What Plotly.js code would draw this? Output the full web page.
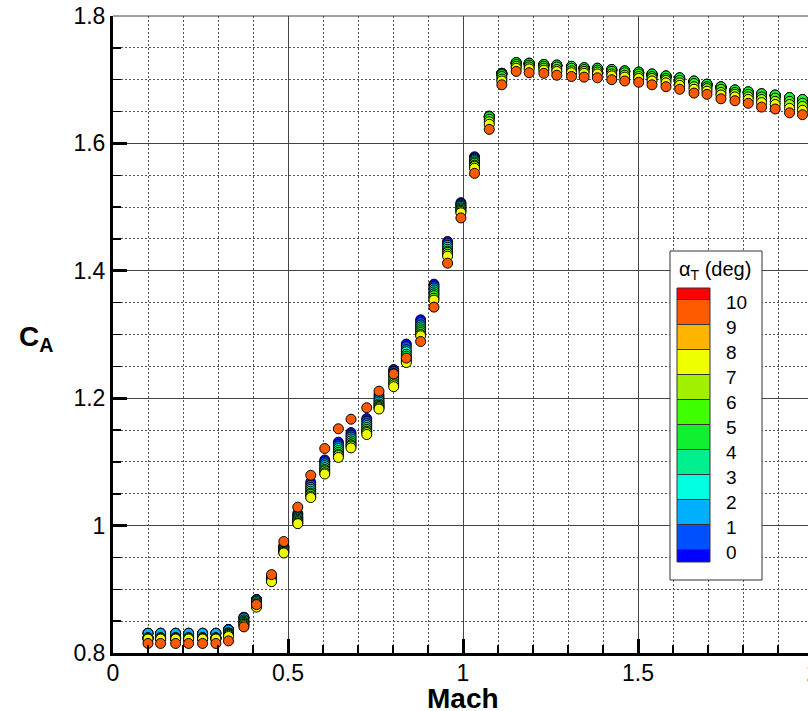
<!DOCTYPE html>
<html>
<head>
<meta charset="utf-8">
<script src="https://cdn.plot.ly/plotly-3.0.1.min.js"></script>
<style>
html,body{margin:0;padding:0;overflow:hidden;background:#fff;}
#chart{width:830px;height:711px;}
</style>
</head>
<body>
<div id="chart"></div>
<script>
// ---- Data ----
const mach = [0.100,0.136,0.179,0.216,0.256,0.294,0.330,0.374,0.410,0.453,0.488,0.528,0.565,0.605,0.644,0.680,0.725,0.760,0.802,0.838,0.879,0.917,0.956,0.994,1.033,1.075,1.111,1.152,1.189,1.231,1.268,1.310,1.346,1.384,1.425,1.462,1.502,1.540,1.580,1.619,1.660,1.697,1.737,1.777,1.815,1.853,1.892,1.933,1.970];

const ca_a0 = [0.831,0.831,0.831,0.831,0.831,0.831,0.837,0.856,0.884,0.920,0.968,1.019,1.068,1.103,1.131,1.146,1.168,1.205,1.245,1.285,1.323,1.379,1.446,1.507,1.579,1.642,1.710,1.726,1.725,1.723,1.722,1.720,1.718,1.717,1.715,1.713,1.711,1.708,1.705,1.702,1.697,1.692,1.688,1.683,1.680,1.677,1.675,1.671,1.668];
const ca_a1 = [0.831,0.831,0.831,0.831,0.831,0.831,0.837,0.856,0.884,0.919,0.967,1.017,1.064,1.100,1.127,1.142,1.164,1.201,1.242,1.281,1.319,1.376,1.443,1.505,1.577,1.642,1.710,1.726,1.725,1.723,1.722,1.720,1.718,1.717,1.715,1.713,1.711,1.708,1.705,1.702,1.697,1.692,1.688,1.683,1.680,1.677,1.675,1.671,1.668];
const ca_a2 = [0.831,0.831,0.831,0.831,0.831,0.831,0.836,0.855,0.883,0.918,0.966,1.014,1.060,1.097,1.124,1.139,1.160,1.197,1.239,1.276,1.315,1.373,1.440,1.503,1.575,1.642,1.710,1.726,1.725,1.723,1.722,1.720,1.718,1.717,1.715,1.713,1.711,1.708,1.705,1.702,1.697,1.692,1.688,1.683,1.680,1.677,1.675,1.671,1.668];
const ca_a3 = [0.824,0.824,0.824,0.824,0.824,0.824,0.832,0.852,0.881,0.917,0.964,1.012,1.057,1.094,1.121,1.136,1.157,1.194,1.235,1.273,1.312,1.370,1.437,1.501,1.573,1.642,1.710,1.726,1.725,1.723,1.722,1.720,1.718,1.717,1.715,1.713,1.711,1.708,1.705,1.702,1.697,1.692,1.688,1.683,1.680,1.677,1.675,1.671,1.668];
const ca_a4 = [0.824,0.824,0.824,0.824,0.824,0.824,0.831,0.850,0.879,0.916,0.963,1.010,1.054,1.091,1.118,1.133,1.154,1.191,1.231,1.269,1.309,1.367,1.434,1.499,1.571,1.643,1.709,1.727,1.726,1.724,1.723,1.721,1.719,1.718,1.716,1.714,1.712,1.709,1.706,1.703,1.698,1.693,1.689,1.684,1.681,1.678,1.676,1.672,1.669];
const ca_a5 = [0.823,0.823,0.823,0.823,0.823,0.823,0.830,0.848,0.877,0.915,0.961,1.008,1.051,1.088,1.115,1.130,1.151,1.189,1.228,1.266,1.306,1.364,1.431,1.497,1.569,1.642,1.708,1.727,1.726,1.724,1.723,1.721,1.719,1.718,1.716,1.714,1.712,1.709,1.706,1.703,1.698,1.693,1.689,1.684,1.681,1.678,1.676,1.672,1.669];
const ca_a6 = [0.823,0.823,0.823,0.823,0.823,0.823,0.829,0.846,0.875,0.914,0.960,1.006,1.049,1.086,1.112,1.127,1.148,1.187,1.224,1.262,1.303,1.361,1.429,1.495,1.566,1.638,1.705,1.724,1.723,1.721,1.720,1.718,1.716,1.715,1.713,1.711,1.709,1.705,1.702,1.699,1.694,1.689,1.685,1.680,1.677,1.673,1.671,1.666,1.663];
const ca_a7 = [0.823,0.823,0.823,0.823,0.823,0.823,0.828,0.845,0.873,0.913,0.958,1.004,1.046,1.083,1.110,1.125,1.146,1.185,1.221,1.259,1.300,1.357,1.426,1.493,1.564,1.634,1.701,1.721,1.720,1.718,1.716,1.714,1.713,1.712,1.709,1.707,1.705,1.702,1.699,1.695,1.689,1.686,1.680,1.677,1.673,1.669,1.666,1.661,1.658];
const ca_a8 = [0.822,0.822,0.822,0.822,0.822,0.822,0.826,0.843,0.872,0.912,0.957,1.003,1.044,1.081,1.107,1.122,1.143,1.183,1.218,1.256,1.298,1.354,1.423,1.491,1.561,1.630,1.698,1.718,1.717,1.715,1.713,1.711,1.710,1.709,1.706,1.704,1.702,1.698,1.695,1.691,1.685,1.682,1.676,1.673,1.669,1.664,1.661,1.655,1.652];
const ca_a10 = [0.815,0.815,0.815,0.815,0.815,0.815,0.819,0.841,0.876,0.923,0.975,1.029,1.079,1.121,1.152,1.167,1.185,1.211,1.238,1.263,1.289,1.343,1.412,1.483,1.553,1.622,1.692,1.713,1.711,1.710,1.707,1.705,1.704,1.703,1.700,1.698,1.696,1.692,1.689,1.685,1.679,1.677,1.670,1.667,1.663,1.657,1.654,1.648,1.645];

const alphaNames = ['0','1','2','3','4','5','6','7','8','10'];
const seriesCA = [ca_a0,ca_a1,ca_a2,ca_a3,ca_a4,ca_a5,ca_a6,ca_a7,ca_a8,ca_a10];
const seriesColors = ['#0a0aff','#0050ff','#00b0ff','#00ffe0','#00ff90','#10ff30','#40ff00','#a0ff00','#f0ff00','#ff5a00'];

// Contour legend (Tecplot style): colour bands top to bottom, level labels
const legendBandColors = ['#ff0000','#ff5a00','#ffb400','#f0ff00','#a0f000','#40ff00','#10f030','#00f090','#00ffe0','#00b0ff','#0050ff','#0000ff'];
const legendLabels = ['10','9','8','7','6','5','4','3','2','1','0'];

// ---- Layout geometry (pixels) ----
const W = 830, H = 711;
const L = 113, R = 813, T = 16, B = 653;
function px2x(px){ return (px - L)/(R - L); }
function px2y(py){ return (B - py)/(B - T); }

const traces = seriesCA.map((ys,i)=>({
  type:'scatter', mode:'markers', x: mach, y: ys, name: alphaNames[i],
  marker:{symbol:'circle', size:10, color: seriesColors[i], line:{color:'#000', width:1}},
  showlegend:false, hoverinfo:'skip'
}));

const shapes = [];
const annotations = [];
// top border
shapes.push({type:'line', xref:'paper', yref:'paper', x0:0, x1:1, y0:1, y1:1, line:{color:'#444', width:1}});
// legend frame
shapes.push({type:'rect', xref:'paper', yref:'paper', x0:px2x(670), x1:px2x(762), y0:px2y(580), y1:px2y(251),
  fillcolor:'#fff', line:{color:'#333', width:1}, layer:'above'});
// bands
const bandTop = 288, firstB = 299.5, step = 25, bandBot = 562;
for(let k=0;k<legendBandColors.length;k++){
  const y0 = k===0 ? bandTop : firstB + step*(k-1);
  const y1 = k===legendBandColors.length-1 ? bandBot : firstB + step*k;
  shapes.push({type:'rect', xref:'paper', yref:'paper', x0:px2x(677), x1:px2x(710), y0:px2y(y1), y1:px2y(y0),
    fillcolor:legendBandColors[k], line:{color:'#333', width:1}, layer:'above'});
}
legendLabels.forEach((t,k)=>{
  annotations.push({xref:'paper', yref:'paper', x:px2x(724), y:px2y(firstB + step*k + 3), xanchor:'left', yanchor:'middle',
    text:t, showarrow:false, font:{size:19, color:'#000'}});
});
annotations.push({xref:'paper', yref:'paper', x:px2x(715), y:px2y(270), xanchor:'center', yanchor:'middle',
  text:'α<sub>T</sub> (deg)', showarrow:false, font:{size:20, color:'#000'}});
// axis titles
annotations.push({xref:'paper', yref:'paper', x:px2x(36), y:px2y(338), xanchor:'center', yanchor:'middle',
  text:'<b>C<sub>A</sub></b>', showarrow:false, font:{size:28, color:'#000'}});
annotations.push({xref:'paper', yref:'paper', x:0.5, y:px2y(698), xanchor:'center', yanchor:'middle', height:24, valign:'middle',
  text:'<b>Mach</b>', showarrow:false, font:{size:28, color:'#000'}});

const axisCommon = {
  showline:true, linewidth:3, linecolor:'#000',
  ticks:'inside', ticklen:14, tickwidth:3, tickcolor:'#000',
  showgrid:true, gridcolor:'#444', gridwidth:1,
  zeroline:false, tickfont:{size:23, color:'#000'},
};
const layout = {
  width:W, height:H,
  margin:{l:L, r:W-R, t:T, b:H-B, pad:0},
  paper_bgcolor:'#fff', plot_bgcolor:'#fff',
  font:{family:'"Liberation Sans", Arial, sans-serif', color:'#000'},
  xaxis: Object.assign({}, axisCommon, {range:[0,2], dtick:0.5, tick0:0, ticklabelstandoff:-3,
    minor:{dtick:0.1, showgrid:true, gridcolor:'#555', gridwidth:1, griddash:'2px,2px', ticks:'inside', ticklen:8, tickwidth:1.5, tickcolor:'#000'}}),
  yaxis: Object.assign({}, axisCommon, {range:[0.8,1.8], dtick:0.2, tick0:0.8,
    minor:{dtick:0.05, showgrid:true, gridcolor:'#555', gridwidth:1, griddash:'2px,2px', ticks:'inside', ticklen:8, tickwidth:1.5, tickcolor:'#000'}}),
  shapes: shapes, annotations: annotations, showlegend:false
};
Plotly.newPlot('chart', traces, layout, {displayModeBar:false, staticPlot:true});
</script>
</body>
</html>
